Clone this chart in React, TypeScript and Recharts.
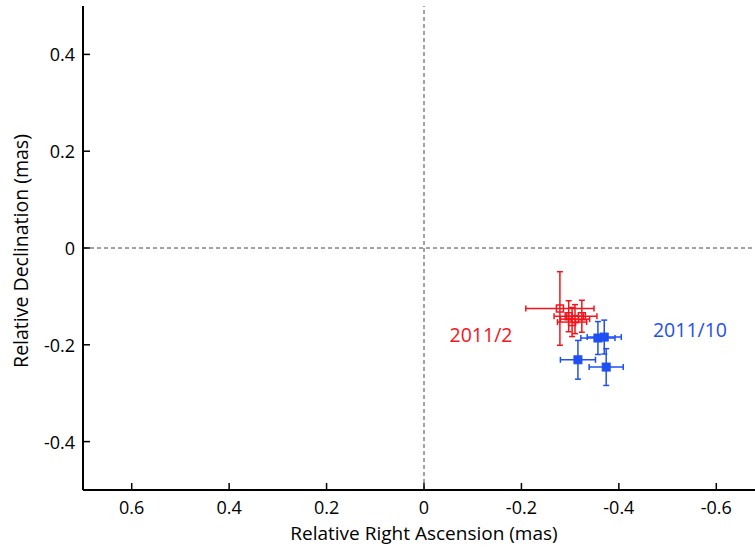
import React from 'react';
import { ScatterChart, Scatter, XAxis, YAxis, ErrorBar, ReferenceLine, ReferenceDot, Label } from 'recharts';

// 2011/2 epoch (red, open squares)
const FEB_X = [-0.279, -0.297, -0.31, -0.324, -0.304];
const FEB_Y = [-0.125, -0.141, -0.147, -0.141, -0.153];
const FEB_XERR = [0.07, 0.03, 0.03, 0.031, 0.03];
const FEB_YERR = [0.076, 0.032, 0.03, 0.033, 0.03];

// 2011/10 epoch (blue, filled squares)
const OCT_X = [-0.357, -0.37, -0.316, -0.374];
const OCT_Y = [-0.186, -0.184, -0.231, -0.246];
const OCT_XERR = [0.035, 0.035, 0.036, 0.035];
const OCT_YERR = [0.034, 0.035, 0.04, 0.038];

const X_TICKS = [0.6, 0.4, 0.2, 0, -0.2, -0.4, -0.6];
const Y_TICKS = [0.4, 0.2, 0, -0.2, -0.4];

const RED = '#f5141c';
const BLUE = '#1f4ff0';
const FONT = '"Open Sans", sans-serif';
const TICK_FS = 18;
const TITLE_FS = 19.5;

const febData = FEB_X.map((x, i) => ({ x, y: FEB_Y[i], xerr: FEB_XERR[i], yerr: FEB_YERR[i] }));
const octData = OCT_X.map((x, i) => ({ x, y: OCT_Y[i], xerr: OCT_XERR[i], yerr: OCT_YERR[i] }));

const BottomTick = (props: any) => {
  const { x, y, payload } = props;
  return (
    <g>
      <line x1={x} y1={y} x2={x} y2={y - 7} stroke="#000" strokeWidth={1.5} />
      <text x={x} y={y + 23.5} textAnchor="middle" fontSize={TICK_FS} fill="#000" fontFamily={FONT}>
        {String(payload.value)}
      </text>
    </g>
  );
};

const TopTick = (props: any) => {
  const { x, y } = props;
  return <line x1={x} y1={y} x2={x} y2={y + 7} stroke="#000" strokeWidth={1.5} />;
};

const LeftTick = (props: any) => {
  const { x, y, payload } = props;
  return (
    <g>
      <line x1={x} y1={y} x2={x + 7} y2={y} stroke="#000" strokeWidth={1.5} />
      <text x={x - 8} y={y + 7} textAnchor="end" fontSize={TICK_FS} fill="#000" fontFamily={FONT}>
        {String(payload.value)}
      </text>
    </g>
  );
};

const OpenSquare = (props: any) => {
  const { cx, cy } = props;
  return <rect x={cx - 3.5} y={cy - 3.5} width={7} height={7} fill="none" stroke={RED} strokeWidth={1.5} />;
};

const FilledSquare = (props: any) => {
  const { cx, cy } = props;
  return <rect x={cx - 4} y={cy - 4} width={8} height={8} fill={BLUE} stroke={BLUE} />;
};

const XTitle = (props: any) => {
  const vb = props.viewBox;
  return (
    <text x={vb.x + vb.width / 2} y={vb.y + 49.5} textAnchor="middle" fontSize={19} fill="#000" fontFamily={FONT}>
      Relative Right Ascension (mas)
    </text>
  );
};

const YTitle = (props: any) => {
  const vb = props.viewBox;
  const cx = vb.x + 28;
  const cy = vb.y + vb.height / 2 + 3;
  return (
    <text transform={`translate(${cx},${cy}) rotate(-90)`} textAnchor="middle" fontSize={TITLE_FS} fill="#000" fontFamily={FONT}>
      Relative Declination (mas)
    </text>
  );
};

export default function App() {
  return (
    <div style={{ position: 'absolute', left: 0, top: 0, width: 755, height: 547, overflow: 'hidden', background: '#fff' }}>
      <ScatterChart width={780} height={547} margin={{ top: 6, right: 15, bottom: 0, left: 0 }}>
        <XAxis
          xAxisId="b"
          type="number"
          dataKey="x"
          domain={[-0.7, 0.7]}
          reversed
          ticks={X_TICKS}
          allowDataOverflow
          height={57}
          tickSize={0}
          tickMargin={0}
          tickLine={false}
          tick={<BottomTick />}
          axisLine={{ stroke: '#000', strokeWidth: 2 }}
        >
          <Label content={<XTitle />} />
        </XAxis>
        <XAxis
          xAxisId="t"
          orientation="top"
          type="number"
          domain={[-0.7, 0.7]}
          reversed
          ticks={X_TICKS}
          allowDataOverflow
          height={0}
          tickSize={0}
          tickMargin={0}
          tickLine={false}
          tick={<TopTick />}
          axisLine={{ stroke: '#000', strokeWidth: 2 }}
        />
        <YAxis
          type="number"
          dataKey="y"
          domain={[-0.5, 0.5]}
          ticks={Y_TICKS}
          allowDataOverflow
          width={83}
          tickSize={0}
          tickMargin={0}
          tickLine={false}
          tick={<LeftTick />}
          axisLine={{ stroke: '#000', strokeWidth: 2 }}
        >
          <Label content={<YTitle />} />
        </YAxis>
        <ReferenceLine xAxisId="b" x={0} stroke="#444" strokeDasharray="4 3" />
        <ReferenceLine xAxisId="b" y={0} stroke="#444" strokeDasharray="4 3" />
        <Scatter xAxisId="b" data={febData} shape={<OpenSquare />} isAnimationActive={false}>
          <ErrorBar dataKey="xerr" direction="x" stroke={RED} strokeWidth={1.5} width={3} />
          <ErrorBar dataKey="yerr" direction="y" stroke={RED} strokeWidth={1.5} width={3} />
        </Scatter>
        <Scatter xAxisId="b" data={octData} shape={<FilledSquare />} isAnimationActive={false}>
          <ErrorBar dataKey="xerr" direction="x" stroke={BLUE} strokeWidth={1.5} width={3} />
          <ErrorBar dataKey="yerr" direction="y" stroke={BLUE} strokeWidth={1.5} width={3} />
        </Scatter>
        <ReferenceDot
          xAxisId="b"
          x={-0.117}
          y={-0.18}
          r={0}
          label={{ value: '2011/2', fill: RED, fontSize: 19.5, fontFamily: FONT, position: 'center' }}
        />
        <ReferenceDot
          xAxisId="b"
          x={-0.546}
          y={-0.17}
          r={0}
          label={{ value: '2011/10', fill: BLUE, fontSize: 19.5, fontFamily: FONT, position: 'center' }}
        />
      </ScatterChart>
    </div>
  );
}
